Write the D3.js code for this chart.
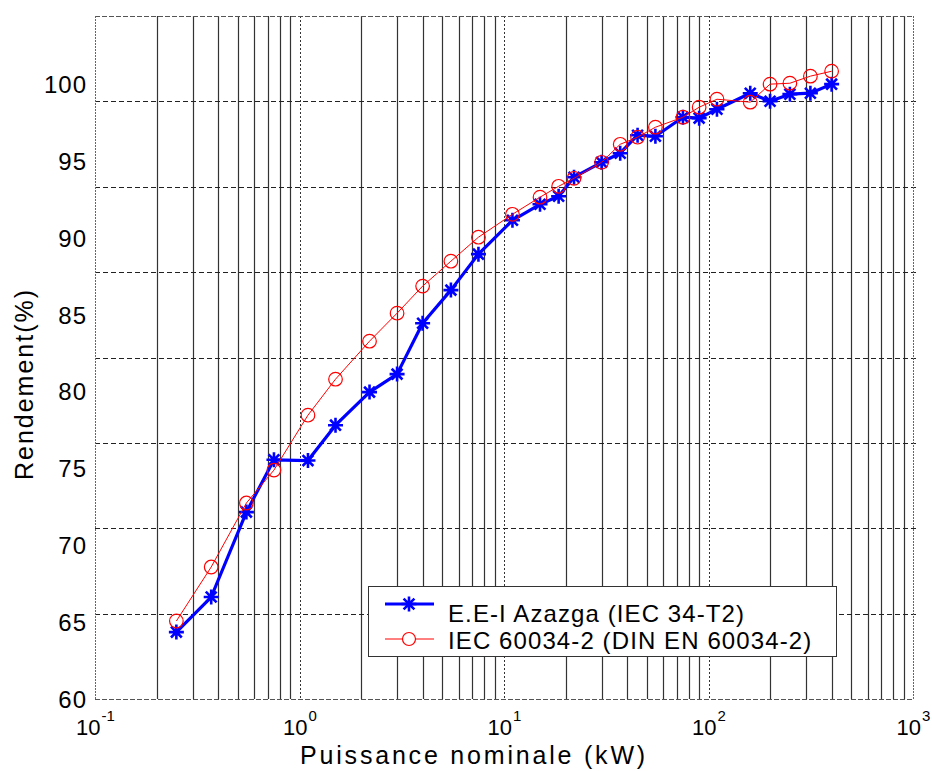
<!DOCTYPE html>
<html>
<head>
<meta charset="utf-8">
<script src="https://cdn.jsdelivr.net/npm/d3@7"></script>
<style>
  html, body { margin: 0; padding: 0; background: #fff; }
  svg { display: block; font-family: "Liberation Sans", Arial, Helvetica, sans-serif; }
</style>
</head>
<body>
<svg id="chart" width="932" height="771"></svg>
<script>
// ---- Data ----
const powers = [0.25, 0.37, 0.55, 0.75, 1.1, 1.5, 2.2, 3, 4, 5.5, 7.5, 11, 15, 18.5, 22, 30, 37, 45, 55, 75, 90, 110, 160, 200, 250, 315, 400];
const azazga = [64.35, 66.63, 72.15, 75.55, 75.5, 77.8, 79.95, 81.12, 84.43, 86.58, 88.92, 91.12, 92.16, 92.68, 93.92, 94.89, 95.48, 96.65, 96.58, 97.82, 97.76, 98.34, 99.38, 98.86, 99.32, 99.38, 99.97];
const iec = [65.07, 68.58, 72.74, 74.88, 78.45, 80.79, 83.26, 85.08, 86.84, 88.46, 90.02, 91.51, 92.62, 93.33, 93.85, 94.89, 96.06, 96.52, 97.17, 97.82, 98.47, 98.99, 98.8, 99.97, 100.03, 100.49, 100.81];
const seriesNames = ["E.E-I Azazga (IEC 34-T2)", "IEC 60034-2 (DIN EN 60034-2)"];
const xDecades = [0.1, 1, 10, 100, 1000];
const xExponents = ["-1", "0", "1", "2", "3"];
const yTicks = [60, 65, 70, 75, 80, 85, 90, 95, 100];
const yDomain = [60, 104.4];
const xLabel = "Puissance nominale (kW)";
const yLabel = "Rendement(%)";

// ---- Layout ----
const L = 95, R = 913, T = 16, B = 699;
const svg = d3.select("#chart");
const x = d3.scaleLog().domain([0.1, 1000]).range([L, R]);
const y = d3.scaleLinear().domain(yDomain).range([B, T]);

const g = svg.append("g");

// minor vertical grid (solid)
const minor = [];
[0.1, 1, 10, 100].forEach(d => { for (let k = 2; k <= 9; k++) minor.push(d * k); });
g.selectAll("line.vmin").data(minor).enter().append("line")
  .attr("x1", d => Math.round(x(d)) + 0.5).attr("x2", d => Math.round(x(d)) + 0.5)
  .attr("y1", T).attr("y2", B)
  .attr("stroke", "#333").attr("stroke-width", 1.2);

// major vertical grid (dotted)
g.selectAll("line.vmaj").data([1, 10, 100]).enter().append("line")
  .attr("x1", d => Math.round(x(d)) + 0.5).attr("x2", d => Math.round(x(d)) + 0.5)
  .attr("y1", T).attr("y2", B)
  .attr("stroke", "#333").attr("stroke-width", 1).attr("stroke-dasharray", "2,2");

// horizontal grid (dashed), 8 equal divisions of the y range
const hGrid = d3.range(1, 8).map(k => yDomain[0] + k * (yDomain[1] - yDomain[0]) / 8);
g.selectAll("line.h").data(hGrid).enter().append("line")
  .attr("x1", L).attr("x2", R + 3)
  .attr("y1", d => Math.round(y(d)) + 0.5).attr("y2", d => Math.round(y(d)) + 0.5)
  .attr("stroke", "#222").attr("stroke-width", 1).attr("stroke-dasharray", "5,3");

// frame (dashed)
const frame = [
  [L, T, R, T], [L, B, R, B]
];
g.selectAll("line.fh").data(frame).enter().append("line")
  .attr("x1", d => d[0]).attr("y1", d => d[1] + 0.5).attr("x2", d => d[2]).attr("y2", d => d[3] + 0.5)
  .attr("stroke", "#555").attr("stroke-width", 1).attr("stroke-dasharray", "5,2");
g.selectAll("line.fv").data([L, R]).enter().append("line")
  .attr("x1", d => d + 0.5).attr("x2", d => d + 0.5).attr("y1", T).attr("y2", B)
  .attr("stroke", "#666").attr("stroke-width", 1).attr("stroke-dasharray", "2,1");

// ---- Axes ----
const xAxis = d3.axisBottom(x).tickValues(xDecades).tickSize(0).tickPadding(0).tickFormat(() => "");
const xg = svg.append("g").attr("transform", `translate(0,${B})`).call(xAxis);
xg.select(".domain").remove();
xg.selectAll(".tick text").remove();
xg.selectAll(".tick").each(function(d, i) {
  const t = d3.select(this).append("text")
    .attr("text-anchor", "middle").attr("y", 36).attr("fill", "#000")
    .attr("font-size", 22).attr("font-family", "Liberation Sans, Arial, sans-serif");
  t.append("tspan").text("10");
  t.append("tspan").attr("dy", -14).attr("font-size", 15).attr("dx", 1).text(xExponents[i]);
});

const yAxis = d3.axisLeft(y).tickValues(yTicks).tickSize(0).tickPadding(8);
const yg = svg.append("g").attr("transform", `translate(${L},0)`).call(yAxis);
yg.select(".domain").remove();
yg.selectAll(".tick text")
  .attr("font-size", 24).attr("fill", "#000").attr("letter-spacing", 1)
  .attr("font-family", "Liberation Sans, Arial, sans-serif").attr("dy", "0.36em");

// axis labels
svg.append("text").attr("x", 474).attr("y", 764).attr("text-anchor", "middle")
  .attr("font-size", 25).attr("letter-spacing", 2.8).attr("fill", "#000").text(xLabel);
svg.append("text").attr("transform", "translate(33,384) rotate(-90)").attr("text-anchor", "middle")
  .attr("font-size", 25).attr("letter-spacing", 2).attr("fill", "#000").text(yLabel);

// ---- Series ----
const pts1 = powers.map((p, i) => [p, azazga[i]]);
const pts2 = powers.map((p, i) => [p, iec[i]]);
const line = d3.line().x(d => x(d[0])).y(d => y(d[1]));
const s = 7.5, dd = s * 0.72;
const starPath = `M${-s},0H${s}M0,${-s}V${s}M${-dd},${-dd}L${dd},${dd}M${-dd},${dd}L${dd},${-dd}`;

const plot = svg.append("g");
plot.append("path").datum(pts1).attr("d", line)
  .attr("fill", "none").attr("stroke", "#0000ff").attr("stroke-width", 3.2).attr("stroke-linejoin", "round");
plot.selectAll("path.star").data(pts1).enter().append("path")
  .attr("d", starPath).attr("transform", d => `translate(${x(d[0])},${y(d[1])})`)
  .attr("stroke", "#0000ff").attr("stroke-width", 2.6).attr("fill", "none");

plot.append("path").datum(pts2).attr("d", line)
  .attr("fill", "none").attr("stroke", "#ff0000").attr("stroke-width", 1);
plot.selectAll("circle.c").data(pts2).enter().append("circle")
  .attr("cx", d => x(d[0])).attr("cy", d => y(d[1])).attr("r", 6.8)
  .attr("fill", "none").attr("stroke", "#ff0000").attr("stroke-width", 1.2);

// ---- Legend ----
const lg = svg.append("g");
lg.append("rect").attr("x", 368.5).attr("y", 586.5).attr("width", 468).attr("height", 70)
  .attr("fill", "#fff").attr("stroke", "#333").attr("stroke-width", 1);
const rows = [
  { name: seriesNames[0], color: "#0000ff", ly: 604, ty: 622, w: 3.2, mark: "star" },
  { name: seriesNames[1], color: "#ff0000", ly: 639, ty: 649, w: 1, mark: "circle" }
];
rows.forEach(r => {
  lg.append("line").attr("x1", 385).attr("x2", 434).attr("y1", r.ly).attr("y2", r.ly)
    .attr("stroke", r.color).attr("stroke-width", r.w);
  if (r.mark === "star") {
    lg.append("path").attr("d", starPath).attr("transform", `translate(409,${r.ly})`)
      .attr("stroke", r.color).attr("stroke-width", 2.6).attr("fill", "none");
  } else {
    lg.append("circle").attr("cx", 409).attr("cy", r.ly).attr("r", 6.5)
      .attr("fill", "#fff").attr("stroke", r.color).attr("stroke-width", 1.2);
  }
  lg.append("text").attr("x", 448).attr("y", r.ty).attr("font-size", 24)
    .attr("letter-spacing", 1.1).attr("fill", "#000").text(r.name);
});
</script>
</body>
</html>
